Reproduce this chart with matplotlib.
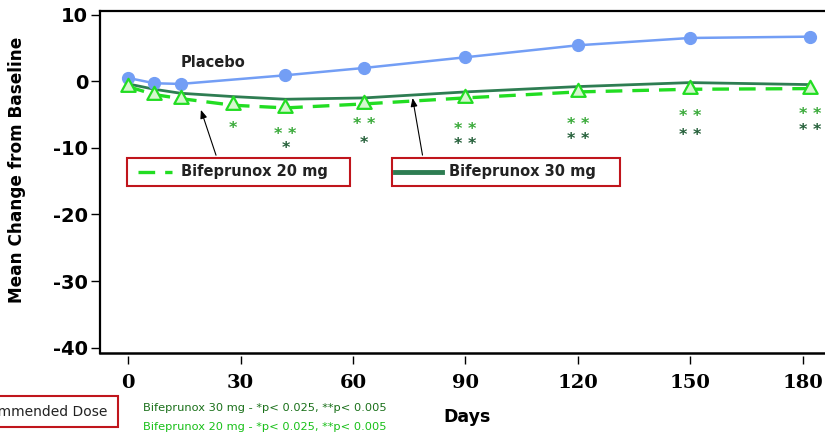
import matplotlib
matplotlib.use("Agg")
import matplotlib.pyplot as plt
from matplotlib.path import Path
import matplotlib.patches as mpatches

# ------------------------------------------------------------------
# Data
# ------------------------------------------------------------------
placebo_days = [0, 7, 14, 42, 63, 90, 120, 150, 182]
placebo_vals = [0.5, -0.3, -0.4, 0.9, 2.0, 3.6, 5.4, 6.5, 6.7]

drug_days = [0, 7, 14, 28, 42, 63, 90, 120, 150, 182]
mg30_vals = [-0.4, -1.2, -1.8, -2.3, -2.7, -2.5, -1.6, -0.8, -0.2, -0.5]
mg20_vals = [-0.8, -2.0, -2.6, -3.6, -4.0, -3.4, -2.5, -1.6, -1.2, -1.1]

x_ticks = [0, 30, 60, 90, 120, 150, 180]
y_ticks = [10, 0, -10, -20, -30, -40]

# significance stars: (day, y, text)
stars_20mg = [(28, -6.9, "*"), (42, -7.8, "* *"), (63, -6.3, "* *"),
              (90, -7.0, "* *"), (120, -6.3, "* *"), (150, -5.1, "* *"),
              (182, -4.8, "* *")]
stars_30mg = [(42, -9.9, "*"), (63, -9.1, "*"), (90, -9.3, "* *"),
              (120, -8.5, "* *"), (150, -7.9, "* *"), (182, -7.2, "* *")]

# ------------------------------------------------------------------
# Style
# ------------------------------------------------------------------
C_PLACEBO = "#739ef5"
C_30 = "#2e7d52"
C_20 = "#22dd22"
C_STAR20 = "#3aaa3a"
C_STAR30 = "#25603a"
C_BOX = "#c0151c"
W, H = 825, 436

# triangle with its centroid at the data point
tri = Path([(0, 2 / 3), (-0.55, -1 / 3), (0.55, -1 / 3), (0, 2 / 3)],
           [Path.MOVETO, Path.LINETO, Path.LINETO, Path.CLOSEPOLY])

fig = plt.figure(figsize=(W / 100, H / 100), dpi=100)
ax = fig.add_axes([100 / W, (H - 353) / H, (W - 100) / W, (353 - 11) / H])
ax.set_xlim(-7.5, 186)
ax.set_ylim(-40.8, 10.55)

ax.plot(placebo_days, placebo_vals, color=C_PLACEBO, lw=1.8, marker="o",
        ms=8.5, mec=C_PLACEBO, zorder=4)
ax.plot(drug_days, mg30_vals, color=C_30, lw=2.0, zorder=3)
ax.plot(drug_days, mg20_vals, color=C_20, lw=2.4, dashes=(5, 3), zorder=3)
ax.plot(drug_days, mg20_vals, ls="none", marker=tri, ms=12.5,
        mfc="#d6f7cf", mec=C_20, mew=1.6, zorder=5)

for d, y, s in stars_20mg:
    ax.text(d, y, s, color=C_STAR20, fontsize=11.5, fontweight="bold",
            ha="center", va="center_baseline")
for d, y, s in stars_30mg:
    ax.text(d, y, s, color=C_STAR30, fontsize=11.5, fontweight="bold",
            ha="center", va="center_baseline")

ax.text(13.9, 2.75, "Placebo", fontsize=10.5, fontweight="bold",
        color="#222222", va="center")

# ------------------------------------------------------------------
# In-plot legend boxes with pointer arrows
# ------------------------------------------------------------------
def legend_box(x0, x1, text, line_x, text_x, style):
    ax.add_patch(mpatches.Rectangle((x0, -15.7), x1 - x0, 4.2, fill=False,
                                    edgecolor=C_BOX, lw=1.5, zorder=6))
    ax.plot(line_x, [-13.6, -13.6], **style, zorder=6)
    ax.text(text_x, -13.6, text, fontsize=10.5, fontweight="bold",
            color="#222222", va="center", zorder=6)

legend_box(-0.3, 59.2, "Bifeprunox 20 mg", [2.7, 11.7], 14.1,
           dict(color=C_20, lw=2.4, dashes=(5, 3)))
legend_box(70.5, 131.3, "Bifeprunox 30 mg", [71.3, 83.8], 85.7,
           dict(color=C_30, lw=3.5))

arrow_kw = dict(arrowstyle="-|>,head_width=0.2,head_length=0.5",
                color="black", lw=0.8)
ax.annotate("", xy=(19.2, -3.9), xytext=(23.7, -11.5), arrowprops=arrow_kw)
ax.annotate("", xy=(75.8, -2.1), xytext=(78.7, -11.5), arrowprops=arrow_kw)

# ------------------------------------------------------------------
# Axes styling
# ------------------------------------------------------------------
ax.spines["right"].set_visible(False)
ax.spines["top"].set_linewidth(1.6)
ax.spines["left"].set_linewidth(1.6)
ax.spines["bottom"].set_visible(False)
ax.spines["bottom"].set_position(("outward", 2.5))
ax.plot([0, 1], [0, 0], transform=ax.transAxes, color="black", lw=1.8,
        clip_on=False, zorder=7)

ax.set_xticks(x_ticks)
ax.set_yticks(y_ticks)
ax.set_xticklabels([str(v) for v in x_ticks], fontfamily="DejaVu Serif",
                   fontweight="bold", fontsize=14)
ax.set_yticklabels([str(v) for v in y_ticks], fontweight="bold", fontsize=14)
ax.tick_params(axis="x", direction="out", length=5.5, width=1, pad=7)
ax.tick_params(axis="y", direction="out", length=6.5, width=1, pad=2)

ax.set_ylabel("Mean Change from Baseline", fontsize=12.2, fontweight="bold")
ax.yaxis.set_label_coords(-(100 - 26) / 725, 0.535)

# ------------------------------------------------------------------
# Figure-level text below the axes
# ------------------------------------------------------------------
fig.text(467 / W, (H - 417) / H, "Days", fontsize=12.5, fontweight="bold",
         ha="center", va="center")
fig.text(143 / W, (H - 408) / H, "Bifeprunox 30 mg - *p< 0.025, **p< 0.005",
         color="#1a701a", fontsize=8.2, va="center")
fig.text(143 / W, (H - 427) / H, "Bifeprunox 20 mg - *p< 0.025, **p< 0.005",
         color="#18c018", fontsize=8.2, va="center")

fig.patches.append(mpatches.Rectangle((-0.05, (H - 427) / H),
                                      0.05 + 118 / W, 31 / H, fill=False,
                                      edgecolor=C_BOX, lw=1.5,
                                      transform=fig.transFigure, figure=fig))
fig.text(107 / W, (H - 412) / H, "Recommended Dose", fontsize=10,
         color="#222222", ha="right", va="center")

fig.savefig("out.png", dpi=100)
